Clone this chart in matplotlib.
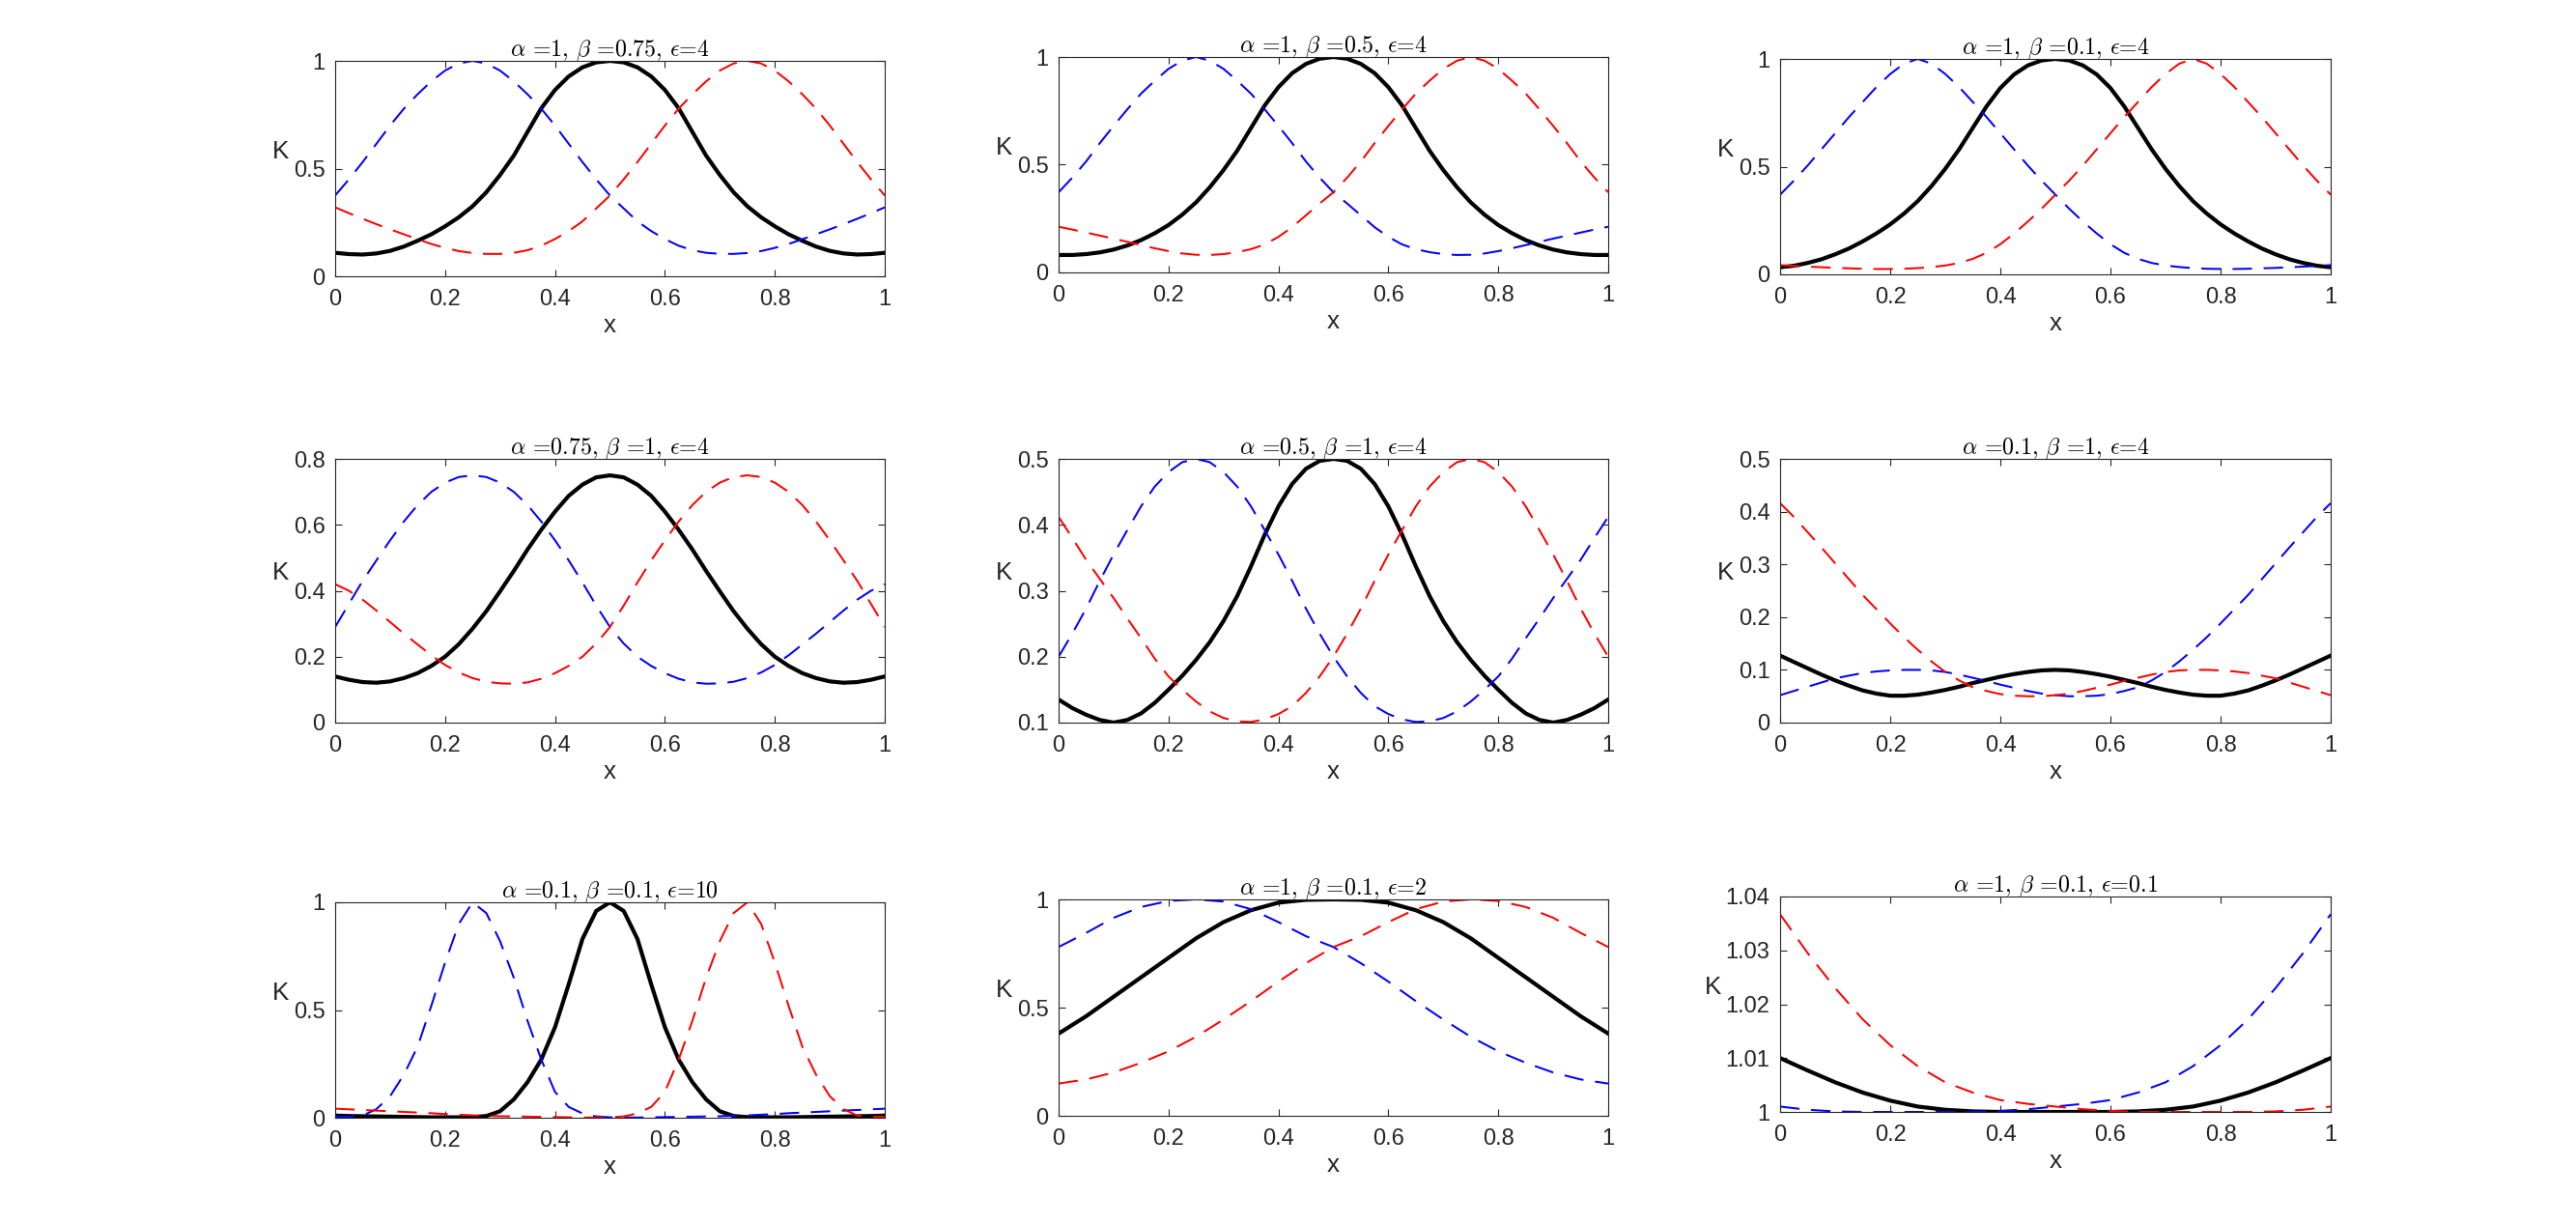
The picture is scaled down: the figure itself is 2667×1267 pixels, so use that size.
import numpy as np
import matplotlib
matplotlib.use("Agg")
import matplotlib.pyplot as plt

plt.rcParams['font.family'] = ['Liberation Sans', 'DejaVu Sans']
plt.rcParams['mathtext.fontset'] = 'cm'

# sample positions
x21 = np.linspace(0, 1, 21)
x41 = np.linspace(0, 1, 41)

# panel 1: alpha=1, beta=0.75, eps=4
black1 = [0.109, 0.103, 0.101, 0.106, 0.118, 0.138, 0.165, 0.195, 0.232, 0.274, 0.325,
          0.39, 0.47, 0.56, 0.67, 0.78, 0.865, 0.928, 0.97, 0.993, 1.0,
          0.993, 0.97, 0.928, 0.865, 0.78, 0.67, 0.56, 0.47, 0.39, 0.325,
          0.274, 0.232, 0.195, 0.165, 0.138, 0.118, 0.106, 0.101, 0.103, 0.109]
blue1 = [0.375, 0.45, 0.53, 0.615, 0.7, 0.778, 0.845, 0.905, 0.955, 0.988, 1.0,
         0.988, 0.955, 0.905, 0.845, 0.778, 0.7, 0.615, 0.53, 0.45, 0.375,
         0.315, 0.255, 0.21, 0.173, 0.142, 0.121, 0.109, 0.104, 0.104, 0.108,
         0.117, 0.132, 0.15, 0.172, 0.195, 0.218, 0.242, 0.267, 0.293, 0.32]
red1 = [0.32, 0.293, 0.267, 0.242, 0.218, 0.195, 0.172, 0.15, 0.132, 0.117, 0.108,
        0.104, 0.104, 0.109, 0.121, 0.142, 0.173, 0.21, 0.255, 0.315, 0.375,
        0.45, 0.53, 0.615, 0.7, 0.778, 0.845, 0.905, 0.955, 0.988, 1.0,
        0.988, 0.955, 0.905, 0.845, 0.778, 0.7, 0.615, 0.53, 0.45, 0.375]

# panel 2: alpha=1, beta=0.5, eps=4
black2 = [0.081, 0.081, 0.085, 0.093, 0.106, 0.125, 0.15, 0.182, 0.22, 0.268, 0.325,
          0.395, 0.475, 0.565, 0.67, 0.775, 0.86, 0.925, 0.968, 0.992, 1.0,
          0.992, 0.968, 0.925, 0.86, 0.775, 0.67, 0.565, 0.475, 0.395, 0.325,
          0.268, 0.22, 0.182, 0.15, 0.125, 0.106, 0.093, 0.085, 0.081, 0.081]
blue2 = [0.372, 0.44, 0.515, 0.6, 0.68, 0.757, 0.83, 0.89, 0.945, 0.983, 1.0,
         0.983, 0.945, 0.89, 0.83, 0.757, 0.68, 0.6, 0.515, 0.44, 0.372,
         0.32, 0.265, 0.21, 0.165, 0.13, 0.108, 0.094, 0.085, 0.081, 0.082,
         0.088, 0.099, 0.112, 0.127, 0.142, 0.157, 0.171, 0.185, 0.199, 0.212]
red2 = [0.212, 0.199, 0.185, 0.171, 0.157, 0.142, 0.127, 0.112, 0.099, 0.088, 0.082,
        0.081, 0.085, 0.094, 0.108, 0.13, 0.165, 0.21, 0.265, 0.32, 0.372,
        0.44, 0.515, 0.6, 0.68, 0.757, 0.83, 0.89, 0.945, 0.983, 1.0,
        0.983, 0.945, 0.89, 0.83, 0.757, 0.68, 0.6, 0.515, 0.44, 0.372]

# panel 3: alpha=1, beta=0.1, eps=4
black3 = [0.033, 0.04, 0.053, 0.07, 0.093, 0.12, 0.153, 0.19, 0.232, 0.282, 0.34,
          0.41, 0.49, 0.58, 0.68, 0.78, 0.865, 0.928, 0.97, 0.993, 1.0,
          0.993, 0.97, 0.928, 0.865, 0.78, 0.68, 0.58, 0.49, 0.41, 0.34,
          0.282, 0.232, 0.19, 0.153, 0.12, 0.093, 0.07, 0.053, 0.04, 0.033]
blue3 = [0.37, 0.435, 0.505, 0.58, 0.655, 0.73, 0.8, 0.87, 0.93, 0.978, 1.0,
         0.978, 0.93, 0.87, 0.8, 0.73, 0.655, 0.58, 0.505, 0.435, 0.37,
         0.305, 0.245, 0.19, 0.14, 0.1, 0.072, 0.053, 0.041, 0.034, 0.029,
         0.026, 0.025, 0.025, 0.026, 0.028, 0.03, 0.033, 0.036, 0.039, 0.043]
red3 = [0.043, 0.039, 0.036, 0.033, 0.03, 0.028, 0.026, 0.025, 0.025, 0.026, 0.029,
        0.034, 0.041, 0.053, 0.072, 0.1, 0.14, 0.19, 0.245, 0.305, 0.37,
        0.435, 0.505, 0.58, 0.655, 0.73, 0.8, 0.87, 0.93, 0.978, 1.0,
        0.978, 0.93, 0.87, 0.8, 0.73, 0.655, 0.58, 0.505, 0.435, 0.37]

# panel 4: alpha=0.75, beta=1, eps=4
black4 = [0.14, 0.13, 0.123, 0.121, 0.125, 0.135, 0.15, 0.172, 0.2, 0.238, 0.285,
          0.338, 0.398, 0.46, 0.525, 0.585, 0.64, 0.688, 0.722, 0.744, 0.75,
          0.744, 0.722, 0.688, 0.64, 0.585, 0.525, 0.46, 0.398, 0.338, 0.285,
          0.238, 0.2, 0.172, 0.15, 0.135, 0.125, 0.121, 0.123, 0.13, 0.14]
blue4 = [0.29, 0.36, 0.43, 0.492, 0.553, 0.61, 0.66, 0.7, 0.728, 0.745, 0.75,
         0.745, 0.728, 0.7, 0.66, 0.61, 0.553, 0.492, 0.425, 0.355, 0.29,
         0.24, 0.2, 0.172, 0.15, 0.133, 0.122, 0.118, 0.119, 0.124, 0.135,
         0.152, 0.175, 0.204, 0.237, 0.27, 0.305, 0.34, 0.373, 0.4, 0.42]
red4 = [0.42, 0.4, 0.373, 0.34, 0.305, 0.27, 0.237, 0.204, 0.175, 0.152, 0.135,
        0.124, 0.119, 0.118, 0.122, 0.133, 0.15, 0.172, 0.2, 0.24, 0.29,
        0.355, 0.425, 0.492, 0.553, 0.61, 0.66, 0.7, 0.728, 0.745, 0.75,
        0.745, 0.728, 0.7, 0.66, 0.61, 0.553, 0.492, 0.43, 0.36, 0.29]

# panel 5: alpha=0.5, beta=1, eps=4
black5 = [0.135, 0.122, 0.112, 0.104, 0.1, 0.104, 0.114, 0.13, 0.15, 0.171, 0.195,
          0.222, 0.254, 0.292, 0.337, 0.385, 0.428, 0.462, 0.485, 0.497, 0.5,
          0.497, 0.485, 0.462, 0.428, 0.385, 0.337, 0.292, 0.254, 0.222, 0.195,
          0.171, 0.15, 0.13, 0.114, 0.104, 0.1, 0.104, 0.112, 0.122, 0.135]
blue5 = [0.2, 0.235, 0.273, 0.315, 0.355, 0.392, 0.428, 0.458, 0.48, 0.495, 0.5,
         0.495, 0.48, 0.458, 0.428, 0.392, 0.355, 0.315, 0.273, 0.235, 0.2,
         0.17, 0.145, 0.125, 0.113, 0.105, 0.101, 0.102, 0.107, 0.117, 0.132,
         0.15, 0.17, 0.197, 0.228, 0.258, 0.289, 0.318, 0.347, 0.38, 0.412]
red5 = [0.412, 0.38, 0.347, 0.318, 0.289, 0.258, 0.228, 0.197, 0.17, 0.15, 0.132,
        0.117, 0.107, 0.102, 0.101, 0.105, 0.113, 0.125, 0.145, 0.17, 0.2,
        0.235, 0.273, 0.315, 0.355, 0.392, 0.428, 0.458, 0.48, 0.495, 0.5,
        0.495, 0.48, 0.458, 0.428, 0.392, 0.355, 0.315, 0.273, 0.235, 0.2]

# panel 6: alpha=0.1, beta=1, eps=4
black6 = [0.127, 0.115, 0.103, 0.091, 0.08, 0.07, 0.061, 0.055, 0.051, 0.051, 0.053,
          0.057, 0.062, 0.068, 0.075, 0.081, 0.087, 0.092, 0.096, 0.099, 0.1,
          0.099, 0.096, 0.092, 0.087, 0.081, 0.075, 0.068, 0.062, 0.057, 0.053,
          0.051, 0.051, 0.055, 0.061, 0.07, 0.08, 0.091, 0.103, 0.115, 0.127]
blue6 = [0.052, 0.06, 0.068, 0.076, 0.084, 0.089, 0.094, 0.097, 0.099, 0.1, 0.1,
         0.099, 0.096, 0.091, 0.085, 0.079, 0.072, 0.066, 0.06, 0.055, 0.052,
         0.05, 0.05, 0.051, 0.054, 0.06, 0.067, 0.08, 0.096, 0.116, 0.138,
         0.162, 0.188, 0.215, 0.242, 0.272, 0.302, 0.332, 0.361, 0.39, 0.416]
red6 = [0.416, 0.39, 0.361, 0.332, 0.302, 0.272, 0.242, 0.215, 0.188, 0.162, 0.138,
        0.116, 0.096, 0.08, 0.067, 0.06, 0.054, 0.051, 0.05, 0.05, 0.052,
        0.055, 0.06, 0.066, 0.072, 0.079, 0.085, 0.091, 0.096, 0.099, 0.1,
        0.1, 0.099, 0.097, 0.094, 0.089, 0.084, 0.076, 0.068, 0.06, 0.052]

# panel 7: alpha=0.1, beta=0.1, eps=10
black7 = [0.01, 0.008, 0.007, 0.006, 0.005, 0.004, 0.003, 0.002, 0.002, 0.002,
          0.003, 0.008, 0.03, 0.085, 0.165, 0.27, 0.42, 0.62, 0.83, 0.96, 1.0,
          0.96, 0.83, 0.62, 0.42, 0.27, 0.165, 0.085, 0.03, 0.008, 0.003,
          0.002, 0.002, 0.002, 0.003, 0.004, 0.005, 0.006, 0.007, 0.008, 0.01]
blue7 = [0.005, 0.005, 0.01, 0.04, 0.1, 0.2, 0.33, 0.52, 0.72, 0.9, 1.0,
         0.95, 0.82, 0.65, 0.45, 0.27, 0.12, 0.05, 0.02, 0.006, 0.002,
         0.001, 0.001, 0.002, 0.003, 0.004, 0.005, 0.006, 0.007, 0.009, 0.011,
         0.014, 0.017, 0.021, 0.024, 0.027, 0.03, 0.033, 0.036, 0.039, 0.042]
red7 = [0.042, 0.039, 0.036, 0.033, 0.03, 0.027, 0.024, 0.021, 0.017, 0.014,
        0.011, 0.009, 0.007, 0.006, 0.005, 0.004, 0.003, 0.002, 0.001, 0.001,
        0.002, 0.006, 0.02, 0.05, 0.12, 0.27, 0.45, 0.65, 0.82, 0.95, 1.0,
        0.9, 0.72, 0.52, 0.33, 0.2, 0.1, 0.04, 0.01, 0.005, 0.005]

# panel 8: alpha=1, beta=0.1, eps=2
black8 = [0.38, 0.46, 0.55, 0.64, 0.73, 0.82, 0.895, 0.95, 0.985, 0.998, 1.0,
          0.998, 0.985, 0.95, 0.895, 0.82, 0.73, 0.64, 0.55, 0.46, 0.38]
blue8 = [0.78, 0.845, 0.915, 0.965, 0.993, 1.0, 0.99, 0.955, 0.895, 0.83, 0.78,
         0.705, 0.62, 0.53, 0.445, 0.365, 0.298, 0.245, 0.2, 0.168, 0.149]
red8 = [0.149, 0.168, 0.2, 0.245, 0.298, 0.365, 0.445, 0.53, 0.62, 0.705, 0.78,
        0.83, 0.895, 0.955, 0.99, 1.0, 0.993, 0.965, 0.915, 0.845, 0.78]

# panel 9: alpha=1, beta=0.1, eps=0.1
black9 = [1.010, 1.0077, 1.0055, 1.0036, 1.0021, 1.001, 1.0004, 1.0001, 1.0, 1.0, 1.0,
          1.0, 1.0, 1.0001, 1.0004, 1.001, 1.0021, 1.0036, 1.0055, 1.0077, 1.010]
blue9 = [1.001, 1.0004, 1.0001, 1.0, 1.0, 1.0, 1.0, 1.0, 1.0002, 1.0005, 1.001,
         1.0015, 1.0022, 1.0036, 1.0055, 1.0085, 1.0124, 1.0172, 1.023, 1.0295, 1.0367]
red9 = [1.0367, 1.0295, 1.023, 1.0172, 1.0124, 1.0085, 1.0055, 1.0036, 1.0022, 1.0015, 1.001,
        1.0005, 1.0002, 1.0, 1.0, 1.0, 1.0, 1.0, 1.0001, 1.0004, 1.001]

titles = [r'$\alpha$ =1, $\beta$ =0.75, $\epsilon$=4',
          r'$\alpha$ =1, $\beta$ =0.5, $\epsilon$=4',
          r'$\alpha$ =1, $\beta$ =0.1, $\epsilon$=4',
          r'$\alpha$ =0.75, $\beta$ =1, $\epsilon$=4',
          r'$\alpha$ =0.5, $\beta$ =1, $\epsilon$=4',
          r'$\alpha$ =0.1, $\beta$ =1, $\epsilon$=4',
          r'$\alpha$ =0.1, $\beta$ =0.1, $\epsilon$=10',
          r'$\alpha$ =1, $\beta$ =0.1, $\epsilon$=2',
          r'$\alpha$ =1, $\beta$ =0.1, $\epsilon$=0.1']

yticks = [[0, 0.5, 1], [0, 0.5, 1], [0, 0.5, 1],
          [0, 0.2, 0.4, 0.6, 0.8], [0.1, 0.2, 0.3, 0.4, 0.5], [0, 0.1, 0.2, 0.3, 0.4, 0.5],
          [0, 0.5, 1], [0, 0.5, 1], [1, 1.01, 1.02, 1.03, 1.04]]
xticks = [0, 0.2, 0.4, 0.6, 0.8, 1]

curves = [(x41, black1, blue1, red1), (x41, black2, blue2, red2), (x41, black3, blue3, red3),
          (x41, black4, blue4, red4), (x41, black5, blue5, red5), (x41, black6, blue6, red6),
          (x41, black7, blue7, red7), (x21, black8, blue8, red8), (x21, black9, blue9, red9)]

W, H = 2667, 1267
fig = plt.figure(figsize=(W / 100, H / 100), dpi=100)

# axes boxes in pixels: left, top, right, bottom
boxes = [(347, 63, 916, 286), (1096, 59, 1665, 282), (1843, 61, 2413, 284),
         (347, 475, 916, 748), (1096, 475, 1665, 748), (1843, 475, 2413, 748),
         (347, 934, 916, 1157), (1096, 931, 1665, 1155), (1843, 928, 2413, 1151)]
axcol = (0.15, 0.15, 0.15)

for i in range(9):
    l, t, rr, bt = boxes[i]
    ax = fig.add_axes([l / W, 1 - bt / H, (rr - l) / W, (bt - t) / H])
    xs, k, b, rd = curves[i]
    ax.plot(xs, k, color='black', lw=3.0)
    ax.plot(xs, b, color='blue', lw=1.45, dashes=(10, 6))
    ax.plot(xs, rd, color='red', lw=1.45, dashes=(10, 6))
    yt = yticks[i]
    ax.set_xlim(0, 1)
    ax.set_ylim(yt[0], yt[-1])
    ax.set_xticks(xticks)
    ax.set_xticklabels(['%g' % v for v in xticks])
    ax.set_yticks(yt)
    ax.set_yticklabels(['%g' % v for v in yt])
    ax.tick_params(direction='in', length=4.8, width=0.8, top=True, right=True,
                   labelsize=17, colors=axcol)
    ax.tick_params(axis='x', pad=9.5)
    ax.tick_params(axis='y', pad=7.5)
    for s in ax.spines.values():
        s.set_color(axcol)
        s.set_linewidth(0.8)
    ax.set_title(titles[i], fontsize=17.2, family='cmr10', pad=4)
    ax.set_xlabel('x', fontsize=18.7, color=axcol, labelpad=3)
    ax.set_ylabel('K', fontsize=18.7, color=axcol, rotation=0, ha='right', va='bottom', labelpad=3.5)
    ax.yaxis.label.set_y(0.525)

fig.savefig('out.png', dpi=100)
